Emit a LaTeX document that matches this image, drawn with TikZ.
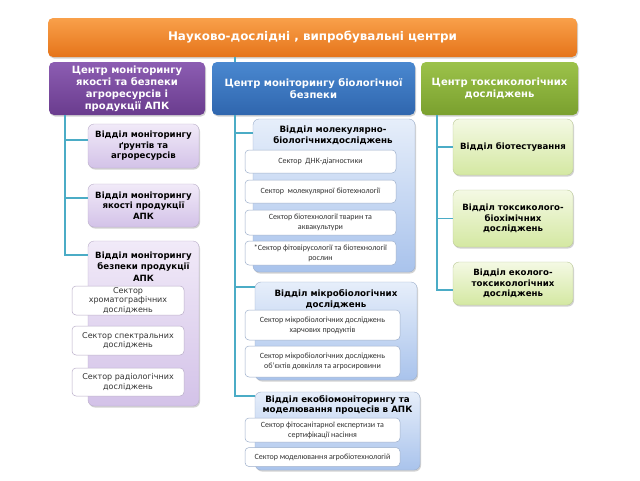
\documentclass[tikz,border=0pt]{standalone}
\usepackage{fontspec}
\setmainfont{DejaVu Sans}
\newfontfamily\secfont{Carlito}
\usetikzlibrary{shadows}
\definecolor{conncol}{HTML}{4BACC6}
\definecolor{orT}{HTML}{F9A04A}
\definecolor{orB}{HTML}{E5741A}
\definecolor{puT}{HTML}{8C5DB2}
\definecolor{puB}{HTML}{6A3C8E}
\definecolor{blT}{HTML}{4A88D0}
\definecolor{blB}{HTML}{2F66AE}
\definecolor{grT}{HTML}{9CC24A}
\definecolor{grB}{HTML}{7AA02E}
\definecolor{lpT}{HTML}{F1EAF8}
\definecolor{lpB}{HTML}{D3C2E8}
\definecolor{lbT}{HTML}{E6EEFA}
\definecolor{lbB}{HTML}{A9C3EC}
\definecolor{lgT}{HTML}{F4F9E4}
\definecolor{lgB}{HTML}{D4E8A2}
\definecolor{txtgray}{HTML}{333333}
\tikzset{
  shad/.style={drop shadow={opacity=0.35,shadow xshift=1pt,shadow yshift=-1.5pt}},
  topbox/.style={shad,rounded corners=5pt,top color=orT,bottom color=orB,draw=none,text=white,
    font=\fontsize{11.9}{13}\selectfont\bfseries,inner sep=0pt,align=center},
  cbox/.style={shad,rounded corners=5pt,draw=none,text=white,
    font=\fontsize{10}{12}\selectfont\bfseries,inner sep=0pt,align=center},
  dbox/.style={shad,rounded corners=6pt,draw=#1!70!gray,line width=0.4pt,inner sep=0pt,align=center,
    font=\fontsize{8.6}{10.5}\selectfont\bfseries,text=black},
  sboxP/.style={rounded corners=4pt,fill=white,draw=lpB!70!gray,line width=0.5pt,inner sep=0pt,align=center,
    font=\fontsize{8}{9.5}\selectfont,text=txtgray},
  sboxB/.style={rounded corners=4pt,fill=white,draw=lbB!70!gray,line width=0.5pt,inner sep=0pt,align=center,
    font=\secfont\fontsize{8}{10}\selectfont,text=txtgray},
  ttl/.style={inner sep=0pt,align=center,font=\fontsize{8.6}{11.5}\selectfont\bfseries,text=black},
  ttlB/.style={inner sep=0pt,align=center,font=\fontsize{8.7}{10.5}\selectfont\bfseries,text=black},
  conn/.style={draw=conncol,line width=1.4pt}
}
\begin{document}
\begin{tikzpicture}[x=1pt,y=-1pt]
\useasboundingbox[fill=white] (0,0) rectangle (640,480);
\node[topbox,minimum width=529pt,minimum height=39pt] (top) at (312.5,37.5) {Науково-дослідні , випробувальні центри};
\node[cbox,top color=puT,bottom color=puB,minimum width=156pt,minimum height=53pt] (cP) at (127,88.5)
  {Центр моніторингу\\якості та безпеки\\агроресурсів і\\продукції АПК};
\node[cbox,top color=blT,bottom color=blB,minimum width=203pt,minimum height=53pt] (cB) at (313.5,88.5)
  {Центр моніторингу біологічної\\безпеки};
\node[cbox,top color=grT,bottom color=grB,minimum width=157pt,minimum height=53pt] (cG) at (499.5,88.5)
  {Центр токсикологічних\\досліджень};

% left column
\node[dbox=lpB,top color=lpT,bottom color=lpB,minimum width=111pt,minimum height=44pt] (dP1) at (143.5,146)
  {Відділ моніторингу\\ґрунтів та\\агроресурсів};
\node[dbox=lpB,top color=lpT,bottom color=lpB,minimum width=111pt,minimum height=43pt] (dP2) at (143.5,205.5)
  {Відділ моніторингу\\якості продукції\\АПК};
\node[dbox=lpB,top color=lpT,bottom color=lpB,minimum width=111pt,minimum height=165pt] (dP3) at (143.5,323.5) {};
\node[ttl] (tP3) at (143.5,266.5) {Відділ моніторингу\\безпеки продукції\\АПК};
\node[sboxP,minimum width=112pt,minimum height=29pt] (sP1) at (128,300.5) {Сектор\\хроматографічних\\досліджень};
\node[sboxP,minimum width=112pt,minimum height=29pt] (sP2) at (128,340.5) {Сектор спектральних\\досліджень};
\node[sboxP,minimum width=112pt,minimum height=28pt] (sP3) at (128,382) {Сектор радіологічних\\досліджень};

% middle column
\node[dbox=lbB,top color=lbT,bottom color=lbB,minimum width=162pt,minimum height=153pt] (dB1) at (334,195.5) {};
\node[ttlB] (tB1) at (333,135.5) {Відділ молекулярно-\\біологічнихдосліджень};
\node[sboxB,minimum width=151pt,minimum height=23pt] (sB1) at (320.5,161.5) {Сектор\ \ ДНК-діагностики};
\node[sboxB,minimum width=151pt,minimum height=23pt] (sB2) at (320.5,191.5) {Сектор\ \ молекулярної біотехнології};
\node[sboxB,minimum width=151pt,minimum height=25pt] (sB3) at (320.5,222.5) {Сектор біотехнології тварин та\\аквакультури};
\node[sboxB,minimum width=151pt,minimum height=24pt] (sB4) at (320.5,253) {*Сектор фітовірусології та біотехнології\\рослин};

\node[dbox=lbB,top color=lbT,bottom color=lbB,minimum width=162pt,minimum height=98pt] (dB2) at (336,331) {};
\node[ttlB] (tB2) at (336,299) {Відділ мікробіологічних\\досліджень};
\node[sboxB,minimum width=155pt,minimum height=30pt] (sB5) at (322.5,325) {Сектор мікробіологічних досліджень\\харчових продуктів};
\node[sboxB,minimum width=155pt,minimum height=31pt] (sB6) at (322.5,361.5) {Сектор мікробіологічних досліджень\\об’єктів довкілля та агросировини};

\node[dbox=lbB,top color=lbT,bottom color=lbB,minimum width=165pt,minimum height=78pt] (dB3) at (337.5,431) {};
\node[ttlB] (tB3) at (337.5,405) {Відділ екобіомоніторингу та\\моделювання процесів в АПК};
\node[sboxB,minimum width=155pt,minimum height=24pt] (sB7) at (322.5,430) {Сектор фітосанітарної експертизи та\\сертифікації насіння};
\node[sboxB,minimum width=155pt,minimum height=19pt] (sB8) at (322.5,457) {Сектор моделювання агробіотехнологій};

% right column
\node[dbox=lgB,top color=lgT,bottom color=lgB,minimum width=120pt,minimum height=56pt] (dG1) at (513,147) {Відділ біотестування};
\node[dbox=lgB,top color=lgT,bottom color=lgB,minimum width=120pt,minimum height=57pt] (dG2) at (513,218.5) {Відділ токсиколого-\\біохімічних\\досліджень};
\node[dbox=lgB,top color=lgT,bottom color=lgB,minimum width=120pt,minimum height=43pt] (dG3) at (513,283.5) {Відділ еколого-\\токсикологічних\\досліджень};

% connectors
\draw[conn] ([xshift=-62pt]cP.south) |- ([yshift=6pt]dP1.west);
\draw[conn] ([xshift=-62pt]cP.south) |- ([yshift=7.5pt]dP2.west);
\draw[conn] ([xshift=-62pt]cP.south) |- ([yshift=-14pt]dP3.north west);
\draw[conn] ([xshift=-78.5pt]top.south -| cB.south) -- ([xshift=-78.5pt]cB.north);
\draw[conn] ([xshift=-78.5pt]cB.south) |- ([yshift=-14pt]dB1.north west);
\draw[conn] ([xshift=-78.5pt]cB.south) |- ([yshift=-5pt]dB2.north west);
\draw[conn] ([xshift=-78.5pt]cB.south) |- ([yshift=-4pt]dB3.north west);
\draw[conn] ([xshift=-62.5pt]cG.south) |- (dG1.west);
\draw[conn] ([xshift=-62.5pt]cG.south) |- (dG2.west);
\draw[conn] ([xshift=-62.5pt]cG.south) |- ([yshift=-6.5pt]dG3.west);
\end{tikzpicture}
\end{document}
